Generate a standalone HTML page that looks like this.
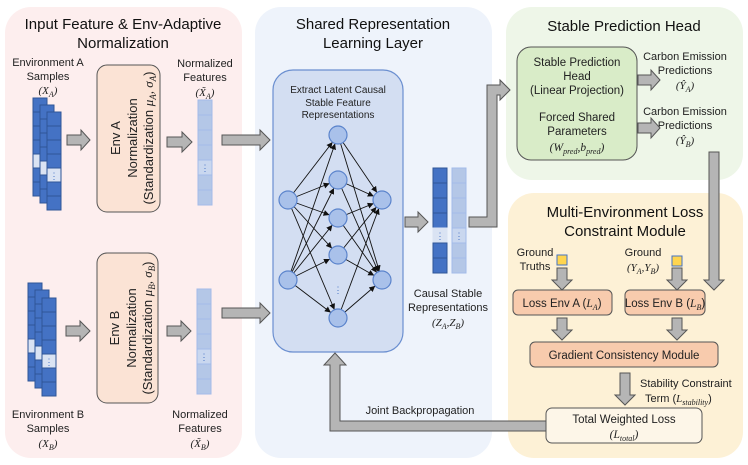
<!DOCTYPE html>
<html><head><meta charset="utf-8"><style>
html,body{margin:0;padding:0;background:#fff;}
svg{display:block;font-family:"Liberation Sans",sans-serif;}
.m{font-family:"Liberation Serif",serif;font-style:italic;}
</style></head><body>
<svg width="748" height="465" viewBox="0 0 748 465" xmlns="http://www.w3.org/2000/svg">
<defs>
<g id="dcell"><rect width="14" height="14" fill="#4472c4" stroke="#2f5597" stroke-width="1"/></g>
<marker id="ah" markerUnits="userSpaceOnUse" markerWidth="20" markerHeight="10" refX="15" refY="3" orient="auto" viewBox="0 0 20 6"><path d="M0 0L6 3L0 6z" fill="#111"/></marker>
</defs>
<!-- panels -->
<rect x="5" y="7" width="237" height="451" rx="26" fill="#fdeeee"/>
<rect x="255" y="7" width="237" height="451" rx="26" fill="#eef3fb"/>
<rect x="506" y="7" width="237" height="173" rx="26" fill="#eef6e8"/>
<rect x="508" y="193" width="235" height="265" rx="26" fill="#fdf1d6"/>

<g font-size="15" fill="#111" text-anchor="middle">
<text x="123" y="29">Input Feature &amp; Env-Adaptive</text>
<text x="123" y="48">Normalization</text>
<text x="373" y="29">Shared Representation</text>
<text x="373" y="48">Learning Layer</text>
<text x="624" y="31">Stable Prediction Head</text>
<text x="625" y="217">Multi-Environment Loss</text>
<text x="625" y="236">Constraint Module</text>
</g>

<g font-size="11" fill="#222" text-anchor="middle">
<text x="48" y="66">Environment A</text>
<text x="48" y="80">Samples</text>
<text x="48" y="94" class="m">(X<tspan font-size="8" dy="3">A</tspan><tspan dy="-3">)</tspan></text>
<text x="205" y="67">Normalized</text>
<text x="205" y="81">Features</text>
<text x="205" y="96" class="m">(X̃<tspan font-size="8" dy="3">A</tspan><tspan dy="-3">)</tspan></text>
<text x="48" y="418">Environment B</text>
<text x="48" y="432">Samples</text>
<text x="48" y="447" class="m">(X<tspan font-size="8" dy="3">B</tspan><tspan dy="-3">)</tspan></text>
<text x="200" y="418">Normalized</text>
<text x="200" y="432">Features</text>
<text x="200" y="447" class="m">(X̃<tspan font-size="8" dy="3">B</tspan><tspan dy="-3">)</tspan></text>
<text x="448" y="297">Causal Stable</text>
<text x="448" y="311">Representations</text>
<text x="448" y="326" class="m">(Z<tspan font-size="8" dy="3">A</tspan><tspan dy="-3">,Z</tspan><tspan font-size="8" dy="3">B</tspan><tspan dy="-3">)</tspan></text>
<text x="685" y="60">Carbon Emission</text>
<text x="685" y="74">Predictions</text>
<text x="685" y="89" class="m">(Ŷ<tspan font-size="8" dy="3">A</tspan><tspan dy="-3">)</tspan></text>
<text x="685" y="115">Carbon Emission</text>
<text x="685" y="129">Predictions</text>
<text x="685" y="144" class="m">(Ŷ<tspan font-size="8" dy="3">B</tspan><tspan dy="-3">)</tspan></text>
<text x="420" y="414">Joint Backpropagation</text>
</g>

<!-- sample stacks A -->
<g>
<g transform="translate(33,98)"><use href="#dcell"/><use href="#dcell" y="14"/><use href="#dcell" y="28"/><use href="#dcell" y="42"/><rect y="56" width="14" height="14" fill="#dae3f3" stroke="#2f5597"/><use href="#dcell" y="70"/><use href="#dcell" y="84"/></g>
<g transform="translate(40,105)"><use href="#dcell"/><use href="#dcell" y="14"/><use href="#dcell" y="28"/><use href="#dcell" y="42"/><rect y="56" width="14" height="14" fill="#dae3f3" stroke="#2f5597"/><use href="#dcell" y="70"/><use href="#dcell" y="84"/></g>
<g transform="translate(47,112)"><use href="#dcell"/><use href="#dcell" y="14"/><use href="#dcell" y="28"/><use href="#dcell" y="42"/><rect y="56" width="14" height="14" fill="#dae3f3" stroke="#2f5597"/><use href="#dcell" y="70"/><use href="#dcell" y="84"/><text x="7" y="67" font-size="9" fill="#4472c4" text-anchor="middle">⋮</text></g>
</g>
<!-- sample stacks B -->
<g>
<g transform="translate(28,283)"><use href="#dcell"/><use href="#dcell" y="14"/><use href="#dcell" y="28"/><use href="#dcell" y="42"/><rect y="56" width="14" height="14" fill="#dae3f3" stroke="#2f5597"/><use href="#dcell" y="70"/><use href="#dcell" y="84"/></g>
<g transform="translate(35,290)"><use href="#dcell"/><use href="#dcell" y="14"/><use href="#dcell" y="28"/><use href="#dcell" y="42"/><rect y="56" width="14" height="14" fill="#dae3f3" stroke="#2f5597"/><use href="#dcell" y="70"/><use href="#dcell" y="84"/></g>
<g transform="translate(42,298)"><use href="#dcell"/><use href="#dcell" y="14"/><use href="#dcell" y="28"/><use href="#dcell" y="42"/><rect y="56" width="14" height="14" fill="#dae3f3" stroke="#2f5597"/><use href="#dcell" y="70"/><use href="#dcell" y="84"/><text x="7" y="67" font-size="9" fill="#4472c4" text-anchor="middle">⋮</text></g>
</g>

<!-- normalized columns -->
<g fill="#b4c7e7" stroke="#a3bbe8">
<rect x="198" y="100" width="14" height="15"/><rect x="198" y="115" width="14" height="15"/><rect x="198" y="130" width="14" height="15"/><rect x="198" y="145" width="14" height="15"/><rect x="198" y="160" width="14" height="15" fill="#c9d7ef"/><rect x="198" y="175" width="14" height="15"/><rect x="198" y="190" width="14" height="15"/>
<rect x="197" y="289" width="14" height="15"/><rect x="197" y="304" width="14" height="15"/><rect x="197" y="319" width="14" height="15"/><rect x="197" y="334" width="14" height="15"/><rect x="197" y="349" width="14" height="15" fill="#c9d7ef"/><rect x="197" y="364" width="14" height="15"/><rect x="197" y="379" width="14" height="15"/>
</g>
<g font-size="9" fill="#4472c4" text-anchor="middle"><text x="205" y="171">⋮</text><text x="204" y="360">⋮</text></g>

<!-- Env boxes -->
<rect x="97" y="65" width="63" height="147" rx="10" fill="#fbe3d5" stroke="#555"/>
<rect x="97" y="253" width="61" height="150" rx="10" fill="#fbe3d5" stroke="#555"/>
<g font-size="13" fill="#222" text-anchor="middle">
<g transform="translate(128,138) rotate(-90)">
<text y="-8">Env A</text><text y="9">Normalization</text>
<text y="25">(Standardization <tspan class="m">μ<tspan font-size="9" dy="3">A</tspan><tspan dy="-3">,  σ</tspan><tspan font-size="9" dy="3">A</tspan></tspan><tspan dy="-3">)</tspan></text>
</g>
<g transform="translate(127,328) rotate(-90)">
<text y="-8">Env B</text><text y="9">Normalization</text>
<text y="25">(Standardization <tspan class="m">μ<tspan font-size="9" dy="3">B</tspan><tspan dy="-3">,  σ</tspan><tspan font-size="9" dy="3">B</tspan></tspan><tspan dy="-3">)</tspan></text>
</g>
</g>

<!-- inner network box -->
<rect x="273" y="70" width="130" height="282" rx="20" fill="#d3def2" stroke="#6b8fd0" stroke-width="1.2"/>
<g font-size="10" fill="#222" text-anchor="middle">
<text x="338" y="93">Extract Latent Causal</text>
<text x="338" y="106">Stable Feature</text>
<text x="338" y="118">Representations</text>
</g>
<g stroke="#111" stroke-width="0.9" marker-end="url(#ah)">
<path d="M288 200L338 135"/><path d="M288 200L338 180"/><path d="M288 200L338 218"/><path d="M288 200L338 255"/><path d="M288 200L338 318"/>
<path d="M288 280L338 135"/><path d="M288 280L338 180"/><path d="M288 280L338 218"/><path d="M288 280L338 255"/><path d="M288 280L338 318"/>
<path d="M338 135L382 200"/><path d="M338 180L382 200"/><path d="M338 218L382 200"/><path d="M338 255L382 200"/><path d="M338 318L382 200"/>
<path d="M338 135L382 280"/><path d="M338 180L382 280"/><path d="M338 218L382 280"/><path d="M338 255L382 280"/><path d="M338 318L382 280"/>
</g>
<g fill="#a9c1ea" stroke="#5b84cc" stroke-width="1.2">
<circle cx="288" cy="200" r="9"/><circle cx="288" cy="280" r="9"/>
<circle cx="338" cy="135" r="9"/><circle cx="338" cy="180" r="9"/><circle cx="338" cy="218" r="9"/><circle cx="338" cy="255" r="9"/><circle cx="338" cy="318" r="9"/>
<circle cx="382" cy="200" r="9"/><circle cx="382" cy="280" r="9"/>
</g>
<text x="338" y="293" font-size="9" fill="#4472c4" text-anchor="middle">⋮</text>

<!-- rep columns -->
<g stroke="#2f5597">
<rect x="433" y="168" width="14" height="15" fill="#4472c4"/><rect x="433" y="183" width="14" height="15" fill="#4472c4"/><rect x="433" y="198" width="14" height="15" fill="#4472c4"/><rect x="433" y="213" width="14" height="15" fill="#4472c4"/><rect x="433" y="228" width="14" height="15" fill="#dae3f3" stroke="#dae3f3"/><rect x="433" y="243" width="14" height="15" fill="#4472c4"/><rect x="433" y="258" width="14" height="15" fill="#4472c4"/>
</g>
<g fill="#b4c7e7" stroke="#a3bbe8">
<rect x="452" y="168" width="14" height="15"/><rect x="452" y="183" width="14" height="15"/><rect x="452" y="198" width="14" height="15"/><rect x="452" y="213" width="14" height="15"/><rect x="452" y="228" width="14" height="15" fill="#c9d7ef"/><rect x="452" y="243" width="14" height="15"/><rect x="452" y="258" width="14" height="15"/>
</g>
<g font-size="9" fill="#4472c4" text-anchor="middle"><text x="440" y="239">⋮</text><text x="459" y="239">⋮</text></g>

<!-- green box -->
<rect x="517" y="47" width="120" height="113" rx="14" fill="#d9ecc8" stroke="#555"/>
<g font-size="11.5" fill="#222" text-anchor="middle">
<text x="577" y="66">Stable Prediction</text>
<text x="577" y="80">Head</text>
<text x="577" y="94">(Linear Projection)</text>
<text x="577" y="121">Forced Shared</text>
<text x="577" y="135">Parameters</text>
<text x="577" y="151" class="m">(W<tspan font-size="8" dy="3">pred</tspan><tspan dy="-3">,b</tspan><tspan font-size="8" dy="3">pred</tspan><tspan dy="-3">)</tspan></text>
</g>

<!-- yellow module -->
<g font-size="11" fill="#222">
<text x="535" y="256" text-anchor="middle">Ground</text>
<text x="535" y="270" text-anchor="middle">Truths</text>
<text x="643" y="256" text-anchor="middle">Ground</text>
<text x="643" y="271" text-anchor="middle" class="m">(Y<tspan font-size="8" dy="3">A</tspan><tspan dy="-3">,Y</tspan><tspan font-size="8" dy="3">B</tspan><tspan dy="-3">)</tspan></text>
<text x="640" y="387">Stability Constraint</text>
<text x="645" y="402">Term (<tspan class="m">L<tspan font-size="8" dy="3">stability</tspan></tspan><tspan dy="-3">)</tspan></text>
</g>
<rect x="557" y="255" width="10" height="10" fill="#ffd54f" stroke="#4472c4"/>
<rect x="672" y="256" width="10" height="10" fill="#ffd54f" stroke="#4472c4"/>
<rect x="513" y="290" width="99" height="25" rx="5" fill="#f8cbad" stroke="#555"/>
<rect x="625" y="290" width="80" height="25" rx="5" fill="#f8cbad" stroke="#555"/>
<rect x="530" y="342" width="188" height="25" rx="5" fill="#f8cbad" stroke="#555"/>
<rect x="546" y="408" width="156" height="35" rx="6" fill="#fdf6e8" stroke="#555"/>
<g font-size="11.5" fill="#222" text-anchor="middle">
<text x="562" y="307">Loss Env A (<tspan class="m">L<tspan font-size="8" dy="3">A</tspan></tspan><tspan dy="-3">)</tspan></text>
<text x="665" y="307">Loss Env B (<tspan class="m">L<tspan font-size="8" dy="3">B</tspan></tspan><tspan dy="-3">)</tspan></text>
<text x="624" y="359">Gradient Consistency Module</text>
<text x="624" y="423">Total Weighted Loss</text>
<text x="624" y="438" class="m">(L<tspan font-size="8" dy="3">total</tspan><tspan dy="-3">)</tspan></text>
</g>

<!-- arrows -->
<g fill="#b5b5b5" stroke="#555" stroke-width="1" stroke-linejoin="miter">
<polygon points="67,135 81,135 81,130 90,140 81,150 81,145 67,145"/>
<polygon points="167,137 182,137 182,132 192,142 182,152 182,147 167,147"/>
<polygon points="222,135 260,135 260,130 270,140 260,150 260,145 222,145"/>
<polygon points="66,326 80,326 80,321 90,331 80,341 80,336 66,336"/>
<polygon points="167,326 181,326 181,321 191,331 181,341 181,336 167,336"/>
<polygon points="222,308 260,308 260,303 270,313 260,323 260,318 222,318"/>
<polygon points="405,217 418,217 418,212 428,222 418,232 418,227 405,227"/>
<polygon points="469,217 487,217 487,85 500,85 500,80 510,90 500,100 500,95 497,95 497,227 469,227"/>
<polygon points="638,75 651,75 651,70 660,80 651,90 651,85 638,85"/>
<polygon points="638,123 651,123 651,118 660,128 651,138 651,133 638,133"/>
<polygon points="709,152 709,280 704,280 714,290 724,280 719,280 719,152"/>
<polygon points="557,268 557,280 552,280 562,290 572,280 567,280 567,268"/>
<polygon points="672,268 672,280 667,280 677,290 687,280 682,280 682,268"/>
<polygon points="557,318 557,330 552,330 562,340 572,330 567,330 567,318"/>
<polygon points="672,318 672,330 667,330 677,340 687,330 682,330 682,318"/>
<polygon points="620,373 620,395 615,395 625,405 635,395 630,395 630,373"/>
<polygon points="546,421 340,421 340,365 346,365 335,353 324,365 330,365 330,431 546,431"/>
</g>
</svg>
</body></html>
